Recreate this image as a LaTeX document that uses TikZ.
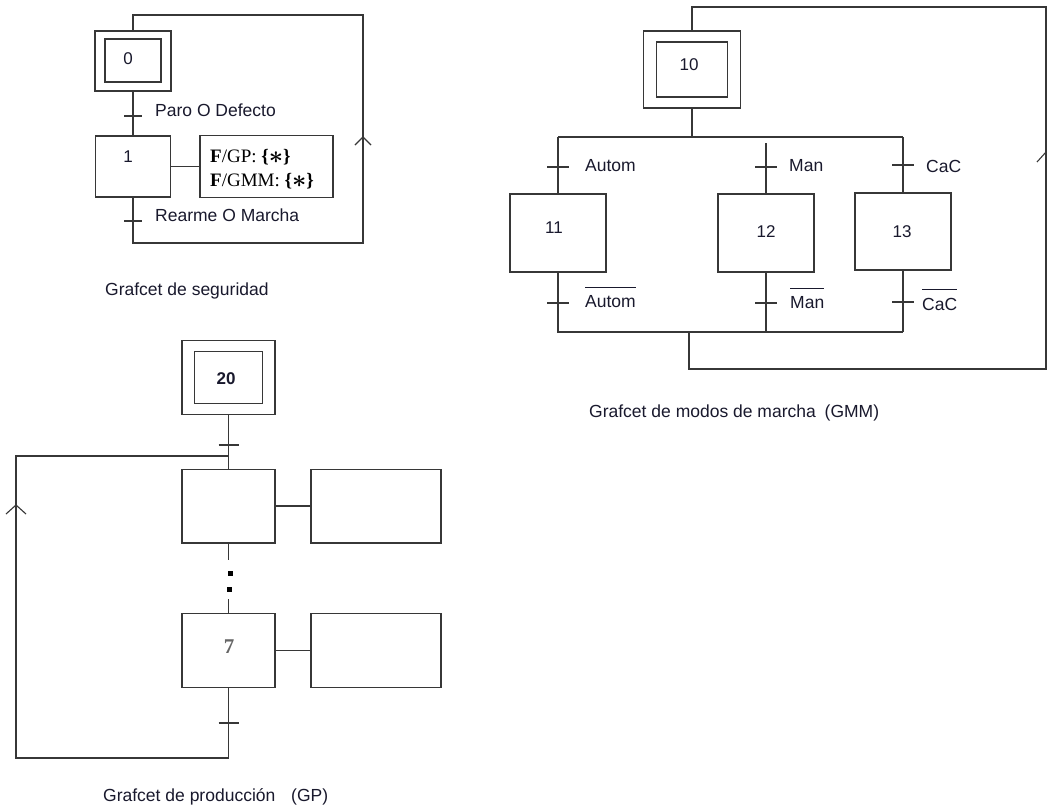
\documentclass[tikz,border=0pt]{standalone}
\usepackage{fontspec}
\setmainfont{Liberation Sans}
\newfontfamily\seriffam{Liberation Serif}
\definecolor{lc}{RGB}{55,55,55}
\definecolor{tc}{RGB}{25,25,45}
\newcommand{\astgroup}{\textbf{\{}\raisebox{-1.2pt}{\fontsize{27}{27}\selectfont$\boldsymbol{\ast}$}\textbf{\}}}
\usepackage{amsmath}
\begin{document}
\begin{tikzpicture}[x=1pt,y=-1pt,
  box/.style={draw=lc,line width=1.4pt,inner sep=0pt},
  ln/.style={draw=lc,line width=1.4pt},
  lbl/.style={font=\fontsize{17.5}{20}\selectfont,text=tc,inner sep=0pt,anchor=west},
  num/.style={font=\fontsize{17}{19}\selectfont,text=tc,inner sep=0pt},
  act/.style={font=\seriffam\fontsize{19}{22}\selectfont,text=black,inner sep=0pt,anchor=west},
  dotsq/.style={fill=black,minimum size=5pt,inner sep=0pt}]
\useasboundingbox[fill=white] (0,0) rectangle (1048,807);

% ---------------- Grafcet de seguridad ----------------
\node[box,minimum width=76pt,minimum height=60pt] (s0o) at (133,61) {};
\node[box,minimum width=56pt,minimum height=43pt] (s0i) at (133,60.5) {};
\node[num] (s0n) at (128,59) {0};
\node[box,minimum width=75pt,minimum height=61pt] (s1) at (133,166.5) {};
\node[num] (s1n) at (128,157) {1};
\node[box,minimum width=133pt,minimum height=62pt] (a1) at (266.5,166.5) {};
\node[act] (a1t1) at (210,157) {\textbf{F}/GP: \astgroup};
\node[act] (a1t2) at (210,181) {\textbf{F}/GMM: \astgroup};
\draw[ln] (s1.east) -- (a1.west);
\draw[ln] (s0o.south) -- (s1.north);
\coordinate (t1) at (133,116);
\draw[ln] ([xshift=-9pt]t1) -- ([xshift=9pt]t1);
\coordinate (t2) at (133,221);
\draw[ln] ([xshift=-9pt]t2) -- ([xshift=9pt]t2);
\coordinate (s1d) at (133,243);
\coordinate (sr1) at (363,243);
\coordinate (sr2) at (363,15);
\coordinate (s0u) at (133,15);
\draw[ln] (s1.south) -- (s1d) -- (sr1) -- (sr2) -- (s0u) -- (s0o.north);
\coordinate (sa) at (363,137);
\draw[ln,line width=1.1pt] ([shift={(-8,8)}]sa) -- (sa) -- ([shift={(8,8)}]sa);
\node[lbl] (l1) at (155,110) {Paro O Defecto};
\node[lbl] (l2) at (155,215) {Rearme O Marcha};
\node[lbl] (c1) at (105,291) {Grafcet de seguridad};

% ---------------- Grafcet de modos de marcha ----------------
\node[box,minimum width=97pt,minimum height=77pt] (g10o) at (692,69.5) {};
\node[box,minimum width=71pt,minimum height=55pt] (g10i) at (692,69.5) {};
\node[num] (g10n) at (689,65) {10};
\node[box,minimum width=96pt,minimum height=78pt] (g11) at (558,233) {};
\node[num] (g11n) at (554,228) {11};
\node[box,minimum width=96pt,minimum height=78pt] (g12) at (766,233) {};
\node[num] (g12n) at (766,232) {12};
\node[box,minimum width=96pt,minimum height=77pt] (g13) at (903,231.5) {};
\node[num] (g13n) at (902,232) {13};
% divergence
\coordinate (gdv) at (692,137);
\coordinate (gdl) at (558,137);
\coordinate (gdr) at (903,137);
\coordinate (g12top) at (766,143);
\draw[ln] (g10o.south) -- (gdv);
\draw[ln] (gdl) -- (gdr);
\draw[ln] (gdl) -- (g11.north);
\draw[ln] (g12top) -- (g12.north);
\draw[ln] (gdr) -- (g13.north);
% convergence
\coordinate (gcl) at (558,332);
\coordinate (gcm) at (766,332);
\coordinate (gcr) at (903,332);
\draw[ln] (g11.south) -- (gcl) -- (gcr);
\draw[ln] (g12.south) -- (gcm);
\draw[ln] (g13.south) -- (gcr);
% loop back
\coordinate (gb1) at (689,332);
\coordinate (gb2) at (689,369);
\coordinate (gb3) at (1046,369);
\coordinate (gb4) at (1046,7);
\coordinate (gb5) at (692,7);
\draw[ln] (gb1) -- (gb2) -- (gb3) -- (gb4) -- (gb5) -- (g10o.north);
\coordinate (ga) at (1046,152);
\draw[ln,line width=1.1pt] ([shift={(-9,10)}]ga) -- (ga);
% transitions
\coordinate (gt11) at (558,167);
\coordinate (gt12) at (766,167);
\coordinate (gt13) at (903,165);
\coordinate (gt11b) at (558,303);
\coordinate (gt12b) at (766,303);
\coordinate (gt13b) at (903,302);
\foreach \t in {gt11,gt12,gt13,gt11b,gt12b,gt13b}
  \draw[ln] ([xshift=-11pt]\t) -- ([xshift=11pt]\t);
\node[lbl] (gl11) at (585,166) {Autom};
\node[lbl] (gl12) at (789,166) {Man};
\node[lbl] (gl13) at (926,166) {CaC};
\node[lbl] (gl11b) at (585,302) {Autom};
\node[lbl] (gl12b) at (790,303) {Man};
\node[lbl] (gl13b) at (922,304) {CaC};
\foreach \l in {gl11b,gl12b,gl13b}
  \draw[draw=tc,line width=1.2pt] ([yshift=8pt]\l.north west) -- ([yshift=8pt]\l.north east);
\node[lbl] (c2) at (589,413) {Grafcet de modos de marcha\hspace{4pt} (GMM)};

% ---------------- Grafcet de producción ----------------
\node[box,minimum width=93pt,minimum height=73.6pt] (p20o) at (228.5,377.5) {};
\node[box,minimum width=68pt,minimum height=52pt] (p20i) at (228.5,377.7) {};
\node[num,font=\bfseries\fontsize{17}{19}\selectfont] (p20n) at (226,379) {20};
\node[box,minimum width=93pt,minimum height=73.6pt] (p1) at (228.5,506) {};
\node[box,minimum width=130pt,minimum height=73.6pt] (pa1) at (376,506) {};
\draw[ln] (p1.east) -- (pa1.west);
\node[box,minimum width=93pt,minimum height=73.6pt] (p7) at (228.5,650.5) {};
\node[num,font=\seriffam\bfseries\fontsize{21}{24}\selectfont,text=black!60] (p7n) at (229,647) {7};
\node[box,minimum width=130pt,minimum height=73.6pt] (pa7) at (376,650.5) {};
\draw[ln] (p7.east) -- (pa7.west);
\draw[ln] (p20o.south) -- (p1.north);
\coordinate (pt1) at (228.5,445);
\draw[ln] ([xshift=-10pt]pt1) -- ([xshift=10pt]pt1);
\coordinate (pd1) at (228.5,560);
\coordinate (pd2) at (228.5,599);
\draw[ln] (p1.south) -- (pd1);
\draw[ln] (pd2) -- (p7.north);
\node[dotsq] (dot1) at (230.5,573.5) {};
\node[dotsq] (dot2) at (229,589) {};
\coordinate (pj) at (228.5,456);
\coordinate (pl1) at (16,456);
\coordinate (pl2) at (16,758);
\coordinate (pl3) at (228.5,758);
\draw[ln] (p7.south) -- (pl3) -- (pl2) -- (pl1) -- (pj);
\coordinate (pt2) at (228.5,723);
\draw[ln] ([xshift=-10pt]pt2) -- ([xshift=10pt]pt2);
\coordinate (pa) at (16,505);
\draw[ln,line width=1.1pt] ([shift={(-10,9)}]pa) -- (pa) -- ([shift={(10,9)}]pa);
\node[lbl] (c3) at (103,797) {Grafcet de producción\hspace{11pt} (GP)};
\end{tikzpicture}
\end{document}
